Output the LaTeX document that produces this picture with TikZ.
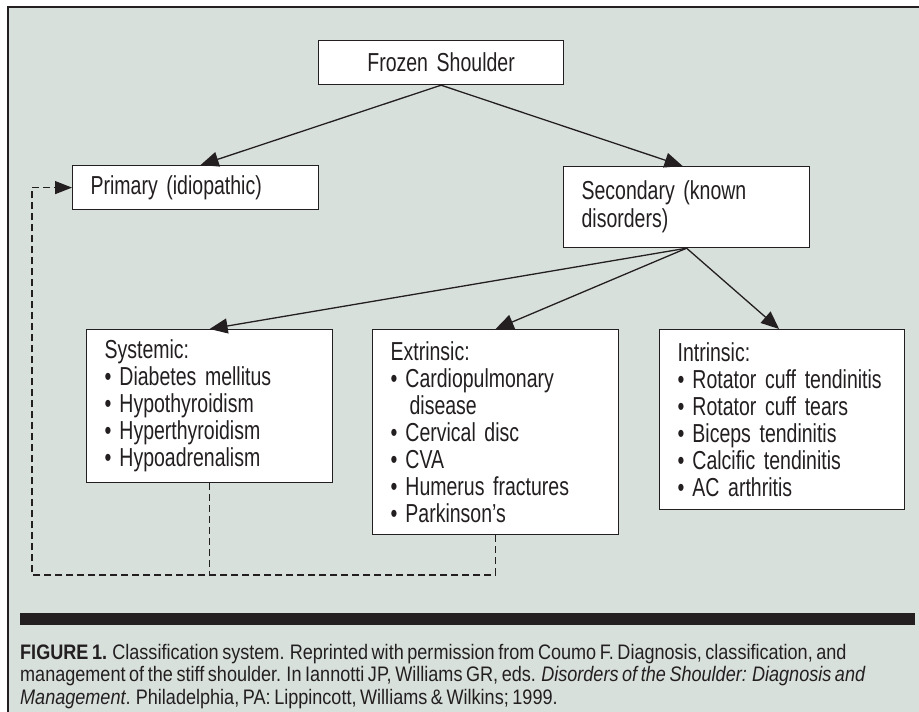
\documentclass[tikz,border=0pt]{standalone}
\usepackage{fontspec}
\setmainfont{Liberation Sans}
\newfontfamily\boxfont[FakeStretch=0.75]{Liberation Sans}
\newfontfamily\capfont[FakeStretch=0.86]{Liberation Sans}
\usetikzlibrary{arrows.meta,calc}
\definecolor{panelbg}{RGB}{216,224,220}
\definecolor{ink}{RGB}{35,31,32}
\newcommand\bitem{\textbullet\hspace{8pt}}
\DeclareRobustCommand\boxtextsetup{\boxfont\fontsize{26}{27}\selectfont\spaceskip=4pt plus 1pt minus 1pt\relax}
\DeclareRobustCommand\captextsetup{\capfont\fontsize{21}{22.5}\selectfont\spaceskip=3.6pt plus 1pt minus 0.5pt\relax}
\tikzset{
  boxnode/.style={draw=ink, line width=1.2pt, fill=white, anchor=north west,
    inner xsep=18pt, inner ysep=0pt, align=left, text=ink,
    font=\boxtextsetup},
  solidarrow/.style={draw=ink, line width=1.3pt, -{Triangle[length=18pt,width=15pt]}},
  dashline/.style={draw=ink, line width=1.2pt, dash pattern=on 7pt off 4pt},
  dasharrow/.style={dashline, -{Triangle[length=17pt,width=13pt]}}
}
\begin{document}
\begin{tikzpicture}[x=1pt,y=-1pt]
\useasboundingbox (0,0) rectangle (919,712);
\fill[panelbg] (8,7) rectangle (919,712);
\draw[ink, line width=1.5pt] (8,712) -- (8,7) -- (919,7);

\node[boxnode, align=center, text width=209pt, minimum height=44pt] (fs) at (318,40) {Frozen Shoulder};
\node[boxnode, text width=210pt, minimum height=44pt] (prim) at (72,165) {Primary (idiopathic)};
\node[boxnode, text width=210pt, minimum height=81pt] (sec) at (563,166) {Secondary (known\\[1pt]disorders)};
\node[boxnode, text width=210pt, minimum height=153pt] (sys) at (86,329)
  {Systemic:\\\bitem Diabetes mellitus\\\bitem Hypothyroidism\\\bitem Hyperthyroidism\\\bitem Hypoadrenalism};
\node[boxnode, text width=210pt, minimum height=205pt] (ext) at (372,329)
  {Extrinsic:\\\bitem Cardiopulmonary\\\hspace*{19pt}disease\\\bitem Cervical disc\\\bitem CVA\\\bitem Humerus fractures\\\bitem Parkinson’s};
\node[boxnode, text width=209pt, minimum height=180pt] (int) at (659,329)
  {Intrinsic:\\\bitem Rotator cuff tendinitis\\\bitem Rotator cuff tears\\\bitem Biceps tendinitis\\\bitem Calcific tendinitis\\\bitem AC arthritis};

\draw[solidarrow] (fs.south) -- ($(prim.north)+(5,0)$);
\draw[solidarrow] (fs.south) -- ($(sec.north)+(-4,0)$);
\draw[solidarrow] (sec.south) -- (sys.north);
\draw[solidarrow] (sec.south) -- (ext.north);
\draw[solidarrow] (sec.south) -- ($(int.north)+(-3,0)$);

\coordinate (corner) at (32,575);
\draw[dashline] (sys.south) -- (sys.south |- corner);
\draw[dasharrow] (ext.south) |- (corner) |- (prim.west);

\fill[ink] (20,613) rectangle (915,625);

\node[anchor=north west, inner sep=0pt, align=left, text=ink,
  font=\captextsetup] (cap) at (20,644)
  {{\bfseries FIGURE 1.} Classification system. Reprinted with permission from Coumo F. Diagnosis, classification, and\\
   management of the stiff shoulder. In Iannotti JP, Williams GR, eds. \textit{Disorders of the Shoulder: Diagnosis and}\\
   \textit{Management}. Philadelphia, PA: Lippincott, Williams \& Wilkins; 1999.};
\end{tikzpicture}
\end{document}
